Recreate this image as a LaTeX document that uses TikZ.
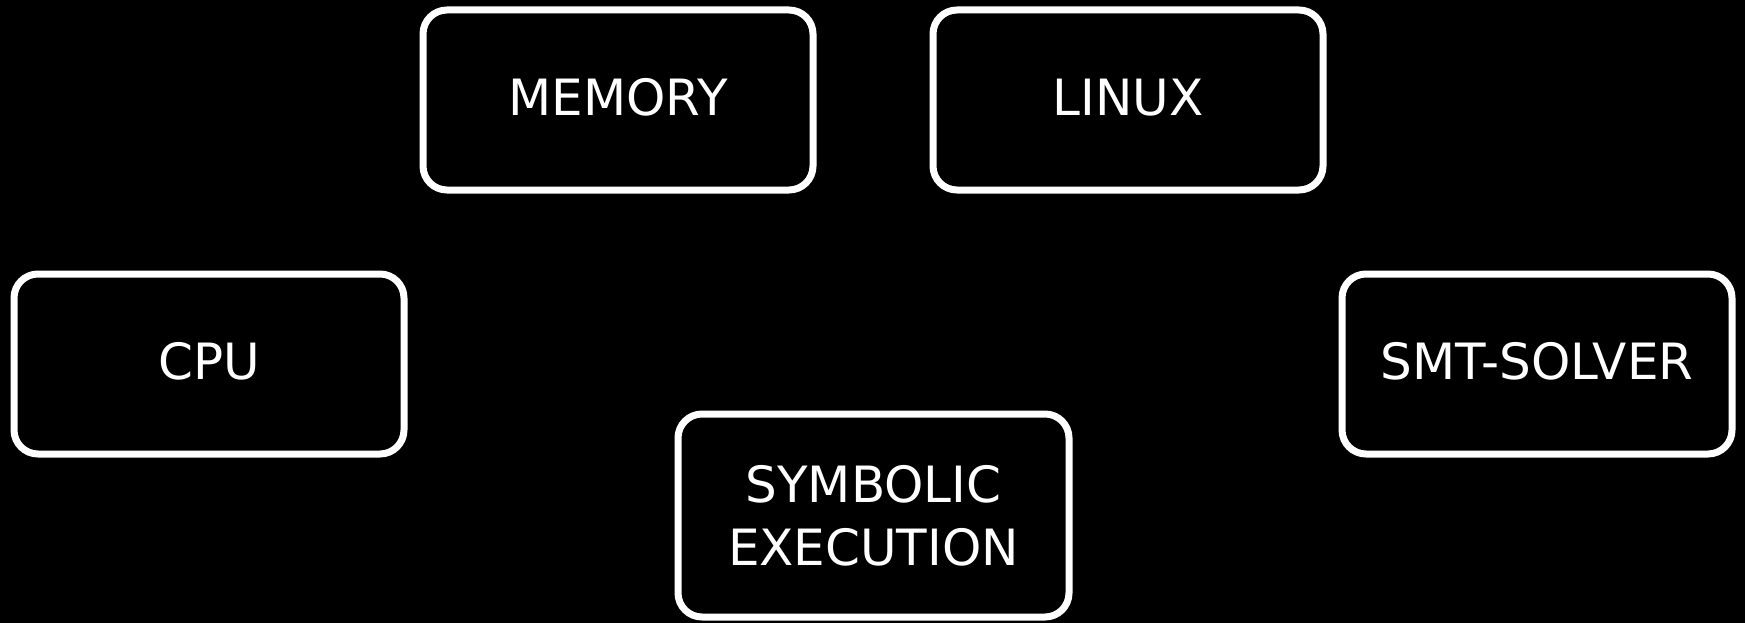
\documentclass[tikz,border=0pt]{standalone}
\usepackage{fontspec}
\setmainfont{DejaVu Sans}
\begin{document}
\begin{tikzpicture}[x=1pt, y=-1pt]

      \tikzset{block/.style={draw=white, line width=7pt, rounded corners=24pt, fill=black, text=white,
          minimum width=390pt, minimum height=180pt, inner sep=0pt, align=center, text depth=6pt,
          font=\fontsize{50pt}{63pt}\selectfont}}
%% Background
      	\fill[black] (0,0) rectangle (1745,623);
      	\useasboundingbox (0,0) rectangle (1745,623);
%% Blocks
      	\node[block] (memory) at (618,100) {MEMORY};
      	\node[block] (linux) at (1128,100) {LINUX};
      	\node[block] (cpu) at (209,364) {CPU};
      	\node[block] (smt) at (1537,364) {SMT-SOLVER};
      	\node[block, text depth=, minimum width=391pt, minimum height=203pt] (symex) at (873.5,515.5) {SYMBOLIC\\EXECUTION};

	\end{tikzpicture}
\end{document}
